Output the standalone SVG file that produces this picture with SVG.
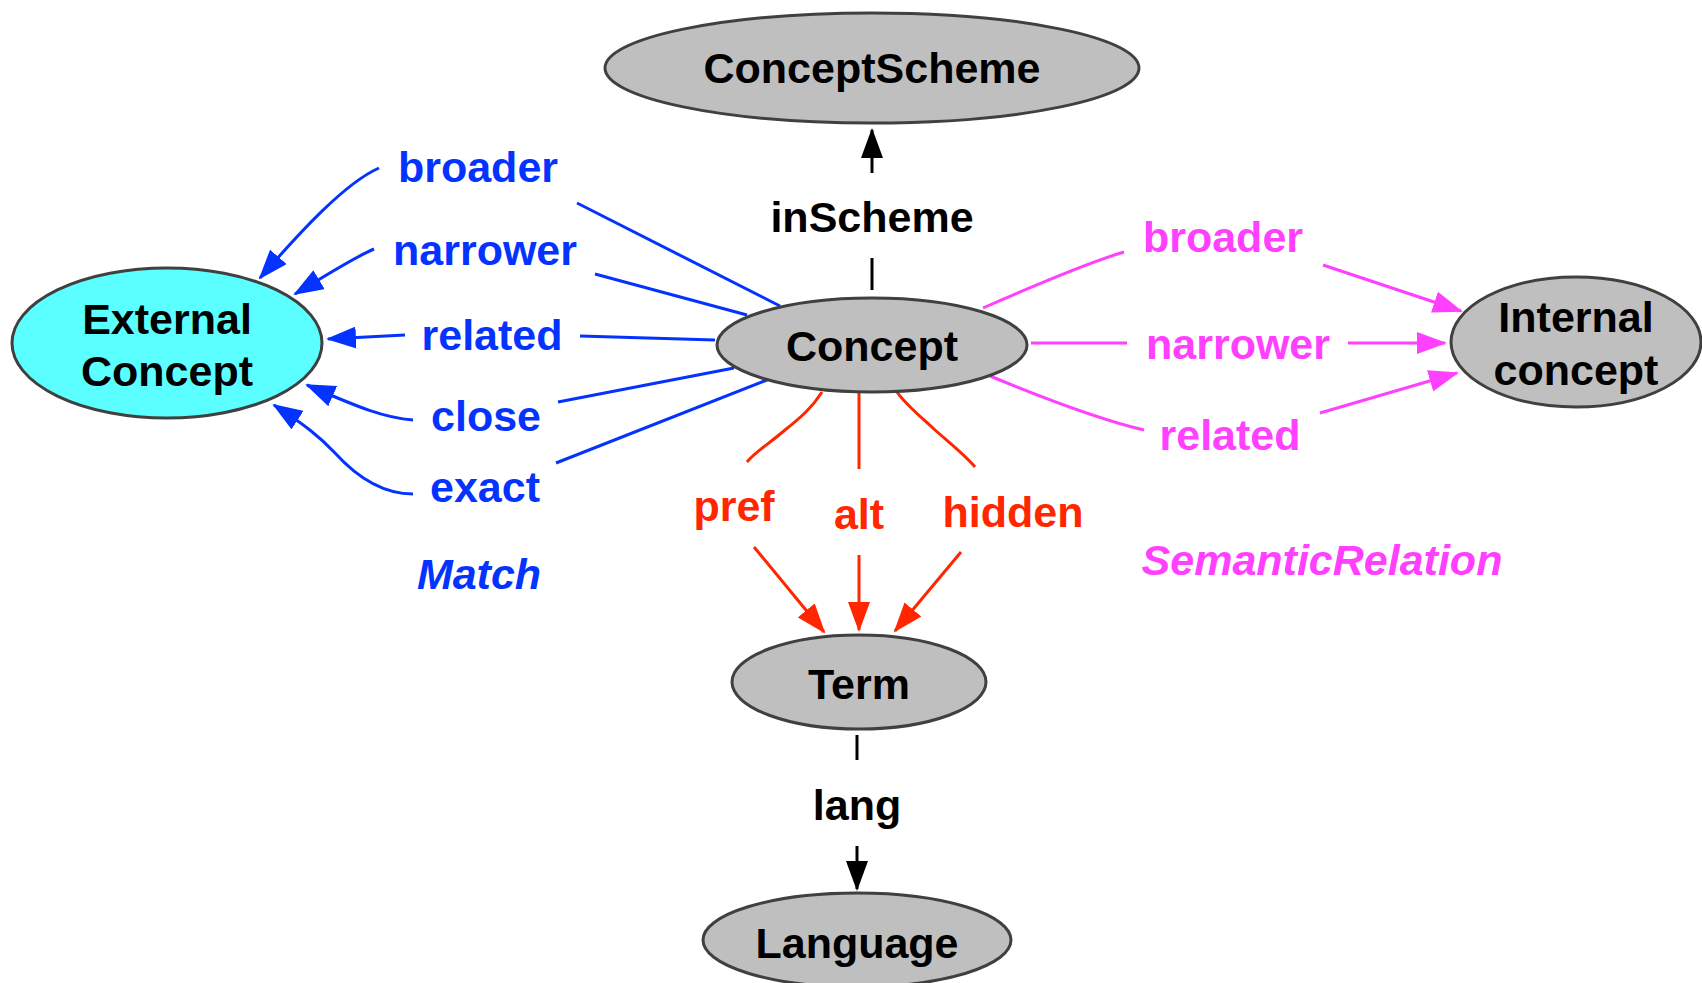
<svg xmlns="http://www.w3.org/2000/svg" width="1702" height="983" viewBox="0 0 1702 983">
<style>
.node{fill:#bfbfbf;stroke:#404040;stroke-width:3}
.ext{fill:#5cffff}
text{font-family:"Liberation Sans",Arial,Helvetica,sans-serif;font-weight:bold;font-size:43px;text-anchor:middle}
.nt{fill:#000}
.bl{fill:#0433ff}
.mg{fill:#ff40ff}
.rd{fill:#ff2600}
.it{font-style:italic}
.e{fill:none;stroke-width:3}
.eb{stroke:#0433ff}
.em{stroke:#ff40ff}
.er{stroke:#ff2600}
.ek{stroke:#000}
</style>
<defs>
<marker id="ak" markerUnits="userSpaceOnUse" markerWidth="30" markerHeight="22" refX="28" refY="11" orient="auto"><path d="M0,0 L30,11 L0,22 z" fill="#000"/></marker>
<marker id="ab" markerUnits="userSpaceOnUse" markerWidth="30" markerHeight="22" refX="28" refY="11" orient="auto"><path d="M0,0 L30,11 L0,22 z" fill="#0433ff"/></marker>
<marker id="am" markerUnits="userSpaceOnUse" markerWidth="30" markerHeight="22" refX="28" refY="11" orient="auto"><path d="M0,0 L30,11 L0,22 z" fill="#ff40ff"/></marker>
<marker id="ar" markerUnits="userSpaceOnUse" markerWidth="30" markerHeight="22" refX="28" refY="11" orient="auto"><path d="M0,0 L30,11 L0,22 z" fill="#ff2600"/></marker>
</defs>
<rect width="1702" height="983" fill="#fff"/>

<g id="connectors">
  <!-- inScheme -->
  <path class="e ek" d="M872,290 L872,258"/>
  <path class="e ek" d="M872,173 L872,130" marker-end="url(#ak)"/>
  <!-- lang -->
  <path class="e ek" d="M857,735 L857,760"/>
  <path class="e ek" d="M857,846 L857,889" marker-end="url(#ak)"/>
  <!-- Match (blue) from Concept -->
  <path class="e eb" d="M780,306 L577,203"/>
  <path class="e eb" d="M747,315 L595,274"/>
  <path class="e eb" d="M715,340 L580,336"/>
  <path class="e eb" d="M734,368 L558,402"/>
  <path class="e eb" d="M767,380 L556,463"/>
  <!-- Match arrows to External Concept -->
  <path class="e eb" d="M379,168 C345,183 300,232 260,278" marker-end="url(#ab)"/>
  <path class="e eb" d="M374,249 C355,257 335,270 295,294" marker-end="url(#ab)"/>
  <path class="e eb" d="M405,335 L328,339" marker-end="url(#ab)"/>
  <path class="e eb" d="M413,420 C385,418 360,408 307,385" marker-end="url(#ab)"/>
  <path class="e eb" d="M413,494 C380,494 355,475 335,453 C320,437 305,425 274,405" marker-end="url(#ab)"/>
  <!-- SemanticRelation (magenta) -->
  <path class="e em" d="M983,308 C1040,283 1090,262 1124,252"/>
  <path class="e em" d="M1323,265 L1461,311" marker-end="url(#am)"/>
  <path class="e em" d="M1031,343 L1127,343"/>
  <path class="e em" d="M1348,343 L1445,343" marker-end="url(#am)"/>
  <path class="e em" d="M990,376 C1060,405 1110,422 1144,430"/>
  <path class="e em" d="M1320,413 L1457,373" marker-end="url(#am)"/>
  <!-- labels (red) -->
  <path class="e er" d="M822,392 C812,408 800,418 785,430 C770,443 755,452 747,462"/>
  <path class="e er" d="M754,547 L824,632" marker-end="url(#ar)"/>
  <path class="e er" d="M859,393 L859,469"/>
  <path class="e er" d="M859,555 L859,630" marker-end="url(#ar)"/>
  <path class="e er" d="M897,392 C905,404 920,416 935,430 C952,445 965,455 975,467"/>
  <path class="e er" d="M961,552 L895,631" marker-end="url(#ar)"/>
</g>

<g id="edge-labels">
  <text class="nt" x="872" y="232">inScheme</text>
  <text class="nt" x="857" y="820">lang</text>
  <text class="bl" x="478" y="182">broader</text>
  <text class="bl" x="485" y="265">narrower</text>
  <text class="bl" x="492" y="350">related</text>
  <text class="bl" x="486" y="431">close</text>
  <text class="bl" x="485" y="502">exact</text>
  <text class="bl it" x="479" y="589">Match</text>
  <text class="mg" x="1223" y="252">broader</text>
  <text class="mg" x="1238" y="359">narrower</text>
  <text class="mg" x="1230" y="450">related</text>
  <text class="mg it" x="1322" y="575">SemanticRelation</text>
  <text class="rd" x="734" y="521">pref</text>
  <text class="rd" x="859" y="529">alt</text>
  <text class="rd" x="1013" y="527">hidden</text>
</g>

<g id="node-conceptscheme">
  <ellipse class="node" cx="872" cy="68" rx="267" ry="55"/>
  <text class="nt" x="872" y="83">ConceptScheme</text>
</g>
<g id="node-concept">
  <ellipse class="node" cx="872" cy="345" rx="155" ry="47"/>
  <text class="nt" x="872" y="361">Concept</text>
</g>
<g id="node-external">
  <ellipse class="node ext" cx="167" cy="343" rx="155" ry="75"/>
  <text class="nt" x="167" y="334">External</text>
  <text class="nt" x="167" y="386">Concept</text>
</g>
<g id="node-internal">
  <ellipse class="node" cx="1576" cy="342" rx="125" ry="65"/>
  <text class="nt" x="1576" y="332">Internal</text>
  <text class="nt" x="1576" y="385">concept</text>
</g>
<g id="node-term">
  <ellipse class="node" cx="859" cy="682" rx="127" ry="47"/>
  <text class="nt" x="859" y="699">Term</text>
</g>
<g id="node-language">
  <ellipse class="node" cx="857" cy="940" rx="154" ry="47"/>
  <text class="nt" x="857" y="958">Language</text>
</g>
</svg>
